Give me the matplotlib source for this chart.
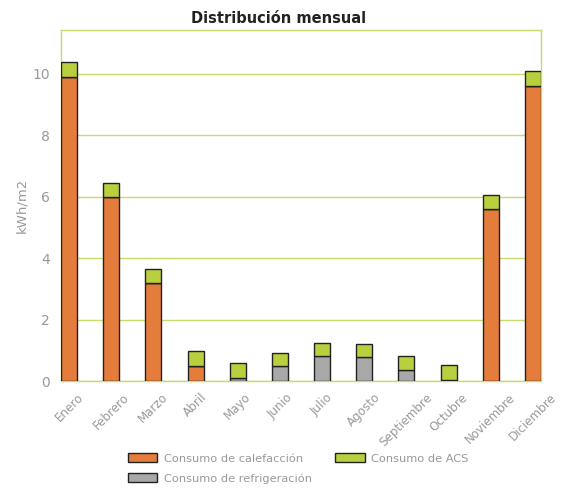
import matplotlib
matplotlib.use("Agg")
import matplotlib.pyplot as plt
import numpy as np

months = ["Enero", "Febrero", "Marzo", "Abril", "Mayo", "Junio", "Julio",
          "Agosto", "Septiembre", "Octubre", "Noviembre", "Diciembre"]
calefaccion = [9.9, 6.0, 3.2, 0.5, 0.0, 0.0, 0.0, 0.0, 0.0, 0.0, 5.6, 9.62]
refrigeracion = [0.0, 0.0, 0.0, 0.0, 0.1, 0.5, 0.82, 0.78, 0.35, 0.03, 0.0, 0.0]
acs = [0.5, 0.44, 0.45, 0.47, 0.48, 0.42, 0.43, 0.44, 0.47, 0.5, 0.45, 0.48]
yticks = [0, 2, 4, 6, 8, 10]

c_cal = "#E47C3C"
c_ref = "#A8A8A8"
c_acs = "#B9CF3E"
c_grid = "#C9D96A"
c_txt = "#999999"

fig = plt.figure(figsize=(5.68, 4.88), dpi=100)
ax = fig.add_axes([0.1074, 0.219, 0.845, 0.7195])

x = np.arange(len(months))
w = 0.38
cal = np.array(calefaccion)
ref = np.array(refrigeracion)
ac = np.array(acs)
b1 = ax.bar(x, cal, w, color=c_cal, edgecolor="#222222", linewidth=1.0, zorder=3,
            label="Consumo de calefacción")
b2 = ax.bar(x, ref, w, bottom=cal, color=c_ref, edgecolor="#222222", linewidth=1.0, zorder=3,
            label="Consumo de refrigeración")
b3 = ax.bar(x, ac, w, bottom=cal + ref, color=c_acs, edgecolor="#222222", linewidth=1.0, zorder=3,
            label="Consumo de ACS")

ax.set_xlim(-0.19, 11.19)
ax.set_ylim(0, 11.43)
ax.set_yticks(yticks)
ax.yaxis.grid(True, color=c_grid, linewidth=1.0, zorder=1)
ax.set_axisbelow(True)
for s in ax.spines.values():
    s.set_color(c_grid)
    s.set_linewidth(1.0)
ax.tick_params(axis="both", length=0, colors=c_txt)
ax.tick_params(axis="y", pad=8, labelsize=10)
ax.tick_params(axis="x", pad=7)
ax.set_xticks(x)
ax.set_xticklabels(months, rotation=45, ha="center", va="top",
                   fontsize=8.6, color=c_txt)
ax.set_ylabel("kWh/m2", color=c_txt, fontsize=9.5, labelpad=3)
fig.suptitle("Distribución mensual", x=0.49, y=0.978, fontsize=10.5,
             fontweight="bold", color="#222222")

leg = fig.legend(handles=[b1, b2, b3], loc="center", bbox_to_anchor=(0.525, 0.04),
                 ncol=2, frameon=False, fontsize=8.2, handlelength=2.6, handleheight=0.85,
                 columnspacing=2.0, labelspacing=0.85, handletextpad=0.6)
for t in leg.get_texts():
    t.set_color(c_txt)

fig.savefig("out.png", dpi=100)
